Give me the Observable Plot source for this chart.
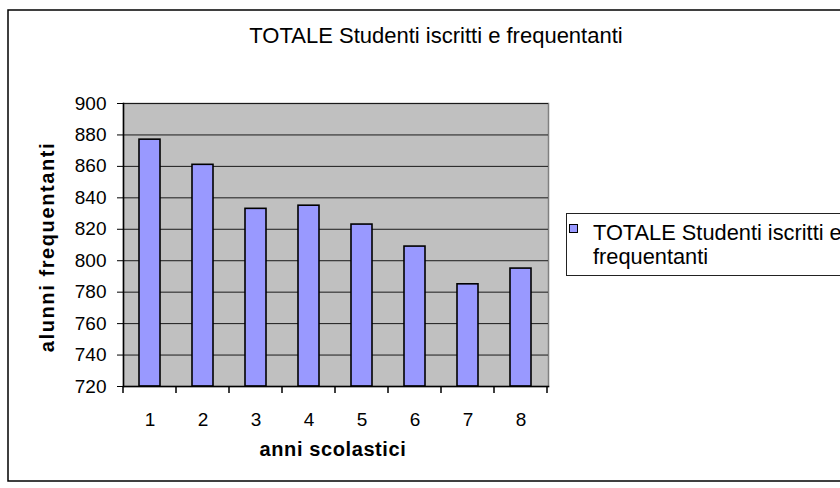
<!DOCTYPE html>
<html>
<head>
<meta charset="utf-8">
<script src="https://cdn.jsdelivr.net/npm/d3@7"></script>
<script src="https://cdn.jsdelivr.net/npm/@observablehq/plot@0.6"></script>
<style>
  html, body { margin: 0; padding: 0; background: #fff; }
  #chart svg { display: block; }
</style>
</head>
<body>
<div id="chart"></div>
<script>
const title = "TOTALE Studenti iscritti e frequentanti";
const seriesName = "TOTALE Studenti iscritti e frequentanti";
const legendLines = ["TOTALE Studenti iscritti e", "frequentanti"];
const xLabel = "anni scolastici";
const yLabel = "alunni frequentanti";
const categories = ["1", "2", "3", "4", "5", "6", "7", "8"];
const values = [877, 861, 833, 835, 823, 809, 785, 795];
const yTicks = [720, 740, 760, 780, 800, 820, 840, 860, 880, 900];
const yMin = 720, yMax = 900;

const barFill = "#9999ff";
const font = "'Liberation Sans', Arial, sans-serif";

const data = categories.map((c, i) => ({cat: c, value: values[i]}));

const chart = Plot.plot({
  width: 840,
  height: 488,
  marginLeft: 123,
  marginRight: 292,
  marginTop: 103,
  marginBottom: 102,
  style: {fontFamily: font, fontSize: "19px", color: "#000", background: "#fff"},
  x: {domain: categories, paddingInner: 0.6, paddingOuter: 0.3},
  y: {domain: [yMin, yMax]},
  marks: [
    Plot.frame({fill: "#c0c0c0", stroke: "#808080", strokeWidth: 1.5}),
    Plot.gridY(yTicks, {stroke: "#1a1a1a", strokeOpacity: 1, strokeWidth: 1}),
    Plot.barY(data, {x: "cat", y1: () => yMin, y2: "value", fill: barFill, stroke: "#000", strokeWidth: 1.6}),
    Plot.frame({anchor: "left", stroke: "#000", strokeWidth: 1.5}),
    Plot.frame({anchor: "bottom", stroke: "#000", strokeWidth: 1.5}),
    Plot.axisY({ticks: yTicks, tickSize: 6, tickPadding: 11, fontSize: 19, label: null, stroke: "#000"}),
    Plot.axisX({tickSize: 0, tickPadding: 26, fontSize: 19, label: null}),
    Plot.text([xLabel], {frameAnchor: "bottom", dy: 69, dx: -3, fontSize: 20, fontWeight: "bold", fill: "#000", textAnchor: "middle"}),
    Plot.text([yLabel], {frameAnchor: "left", dx: -76, dy: 2, rotate: -90, fontSize: 20, fontWeight: "bold", fill: "#000", textAnchor: "middle"})
  ]
});

document.getElementById("chart").appendChild(chart);

const svg = d3.select(chart);
const xs = chart.scale("x");
const ys = chart.scale("y");
const y0 = ys.apply(yMin);
const half = (xs.step - xs.bandwidth) / 2;
const bounds = categories.map(c => xs.apply(c) - half);
bounds.push(bounds[bounds.length - 1] + xs.step);
svg.append("g").selectAll("line").data(bounds).join("line")
  .attr("x1", d => d).attr("x2", d => d)
  .attr("y1", y0).attr("y2", y0 + 7)
  .attr("stroke", "#000").attr("stroke-width", 1.5);

svg.selectAll("text").filter(function() { return this.textContent === xLabel; }).attr("letter-spacing", 0.6);
svg.selectAll("text").filter(function() { return this.textContent === yLabel; }).attr("letter-spacing", 1.6);

// Outer chart border
svg.insert("rect", ":first-child")
  .attr("x", 8).attr("y", 10).attr("width", 845).attr("height", 471)
  .attr("fill", "#fff").attr("stroke", "#000").attr("stroke-width", 1.5);

// Title
svg.append("text")
  .attr("x", 436).attr("y", 43)
  .attr("text-anchor", "middle")
  .attr("font-family", font).attr("font-size", 22)
  .attr("fill", "#000")
  .text(title);

// Legend
const lg = svg.append("g").attr("text-anchor", "start");
lg.append("rect").attr("x", 566.5).attr("y", 213.5).attr("width", 290).attr("height", 62)
  .attr("fill", "#fff").attr("stroke", "#222").attr("stroke-width", 1);
lg.append("rect").attr("x", 569.5).attr("y", 224.5).attr("width", 8).attr("height", 8)
  .attr("fill", barFill).attr("stroke", "#000").attr("stroke-width", 1);
lg.selectAll("text.l").data(legendLines).join("text")
  .attr("class", "l")
  .attr("x", 593).attr("y", (d, i) => 240 + i * 24)
  .attr("text-anchor", "start")
  .attr("font-family", font).attr("font-size", 21.8).attr("fill", "#000")
  .text(d => d);
</script>
</body>
</html>
